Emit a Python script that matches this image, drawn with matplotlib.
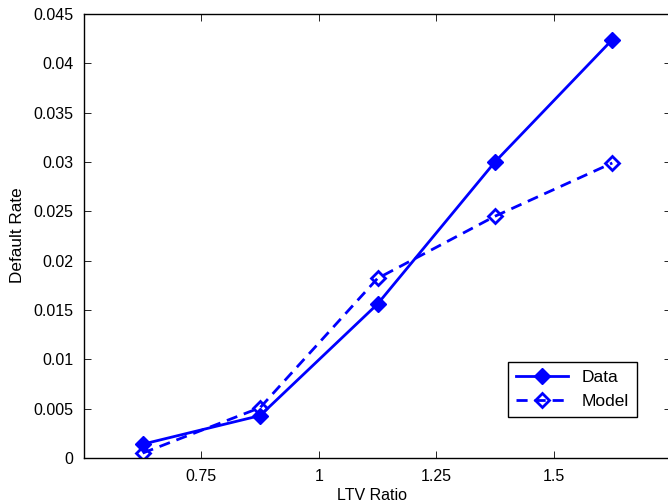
import matplotlib.pyplot as plt
import numpy as np

plt.rcParams['font.family'] = ['Liberation Sans', 'DejaVu Sans']

ltv = [0.625, 0.875, 1.125, 1.375, 1.625]
data_rate = [0.0014, 0.0043, 0.0156, 0.0300, 0.0424]
model_rate = [0.0005, 0.0051, 0.0182, 0.0245, 0.0299]

xticks = [0.75, 1, 1.25, 1.5]
xticklabels = ['0.75', '1', '1.25', '1.5']
yticks = [0, 0.005, 0.01, 0.015, 0.02, 0.025, 0.03, 0.035, 0.04, 0.045]
yticklabels = ['0', '0.005', '0.01', '0.015', '0.02', '0.025', '0.03', '0.035', '0.04', '0.045']

fig = plt.figure(figsize=(6.68, 5.03), dpi=100)
ax = fig.add_axes([84/668, 45/503, 587/668, 444/503])

ax.plot(ltv, data_rate, color='blue', lw=2, ls='-', marker='D', ms=8,
        mfc='blue', mec='blue', label='Data')
ax.plot(ltv, model_rate, color='blue', lw=2, ls=(0, (4, 2.5)), marker='D', ms=7,
        mfc='none', mec='blue', mew=2, label='Model')

ax.set_xlim(0.5, 1.75)
ax.set_ylim(0, 0.045)
ax.set_xticks(xticks)
ax.set_xticklabels(xticklabels)
ax.set_yticks(yticks)
ax.set_yticklabels(yticklabels)
ax.tick_params(direction='in', top=True, right=True, labelsize=11.5, length=5, width=0.6)
ax.tick_params(axis='x', pad=8)
ax.tick_params(axis='y', pad=7.5)
for s in ax.spines.values():
    s.set_linewidth(1)

ax.set_xlabel('LTV Ratio', fontsize=11.5)
ax.set_ylabel('Default Rate', fontsize=12.3)
ax.xaxis.set_label_coords(0.49, -0.0676)
ax.yaxis.set_label_coords(-0.1005, 0.501)

leg = ax.legend(loc='lower right', bbox_to_anchor=(0.942, 0.092), borderaxespad=0,
                fontsize=12.5, fancybox=False, edgecolor='black', framealpha=1,
                handlelength=3.0, borderpad=0.45, labelspacing=0.55)
leg.get_frame().set_linewidth(1)

fig.savefig('out.png', dpi=100)
